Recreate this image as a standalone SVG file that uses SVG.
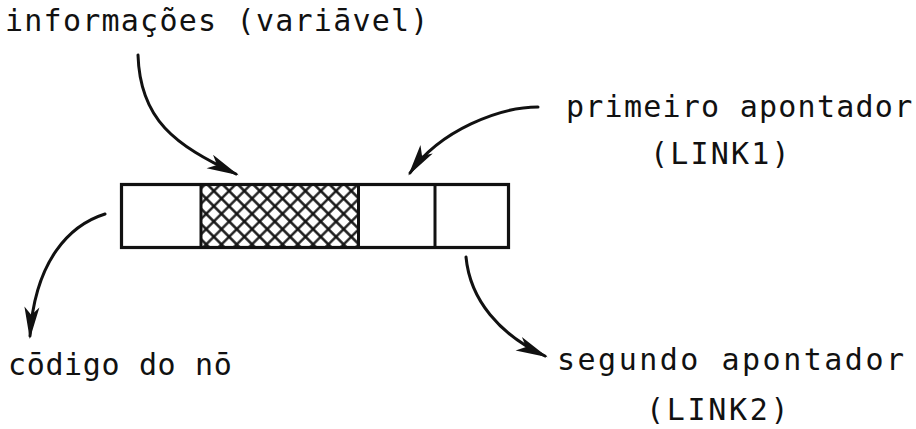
<svg xmlns="http://www.w3.org/2000/svg" width="916" height="429" viewBox="0 0 916 429">
  <style>
    .lbl { font-family: "DejaVu Sans Mono", "Liberation Mono", monospace; font-size: 30px; fill: #111; }
    .box { fill: none; stroke: #111; stroke-width: 3.2; }
    .div { stroke: #111; stroke-width: 3; }
    .conn { fill: none; stroke: #111; stroke-width: 3; stroke-linecap: round; }
  </style>
  <defs>
    <!-- cross-hatch for the variable-length information field -->
    <pattern id="hatch" patternUnits="userSpaceOnUse" width="10.8" height="10.8" patternTransform="rotate(45)">
      <path d="M0 5.4 H10.8 M5.4 0 V10.8" stroke="#111" stroke-width="2.3"/>
    </pattern>
    <!-- dart-shaped arrowhead -->
    <marker id="dart" markerUnits="userSpaceOnUse" viewBox="-32 -9 36 18" refX="0" refY="0" markerWidth="36" markerHeight="18" orient="auto">
      <path d="M3,0 L-29,-7.5 L-21,0 L-29,7.5 Z" fill="#111"/>
    </marker>
  </defs>

  <!-- node record: code | information | LINK1 | LINK2 -->
  <g id="record">
    <rect x="201" y="184.5" width="157.5" height="63" fill="url(#hatch)"/>
    <rect class="box" x="121.5" y="184.5" width="387" height="63"/>
    <line class="div" x1="201" y1="184.5" x2="201" y2="247.5"/>
    <line class="div" x1="358.5" y1="184.5" x2="358.5" y2="247.5"/>
    <line class="div" x1="435" y1="184.5" x2="435" y2="247.5"/>
  </g>

  <g id="label-info">
    <text class="lbl" x="5" y="31" letter-spacing="1.24">informações (variāvel)</text>
  </g>
  <g id="label-link1">
    <text class="lbl" x="566" y="117" letter-spacing="1.24">primeiro apontador</text>
    <text class="lbl" x="650" y="164" letter-spacing="2.2">(LINK1)</text>
  </g>
  <g id="label-code">
    <text class="lbl" x="8" y="375" letter-spacing="0.64">cōdigo do nō</text>
  </g>
  <g id="label-link2">
    <text class="lbl" x="557" y="370" letter-spacing="2.5">segundo apontador</text>
    <text class="lbl" x="646" y="420" letter-spacing="2.7">(LINK2)</text>
  </g>

  <g id="connectors">
    <path class="conn" d="M138,55 C140,120 175,145 236,174" marker-end="url(#dart)"/>
    <path class="conn" d="M538,107 C500,107 440,130 410,173" marker-end="url(#dart)"/>
    <path class="conn" d="M105,214 C70,225 35,260 30,336" marker-end="url(#dart)"/>
    <path class="conn" d="M466,257 C470,300 500,335 545,356" marker-end="url(#dart)"/>
  </g>
</svg>
